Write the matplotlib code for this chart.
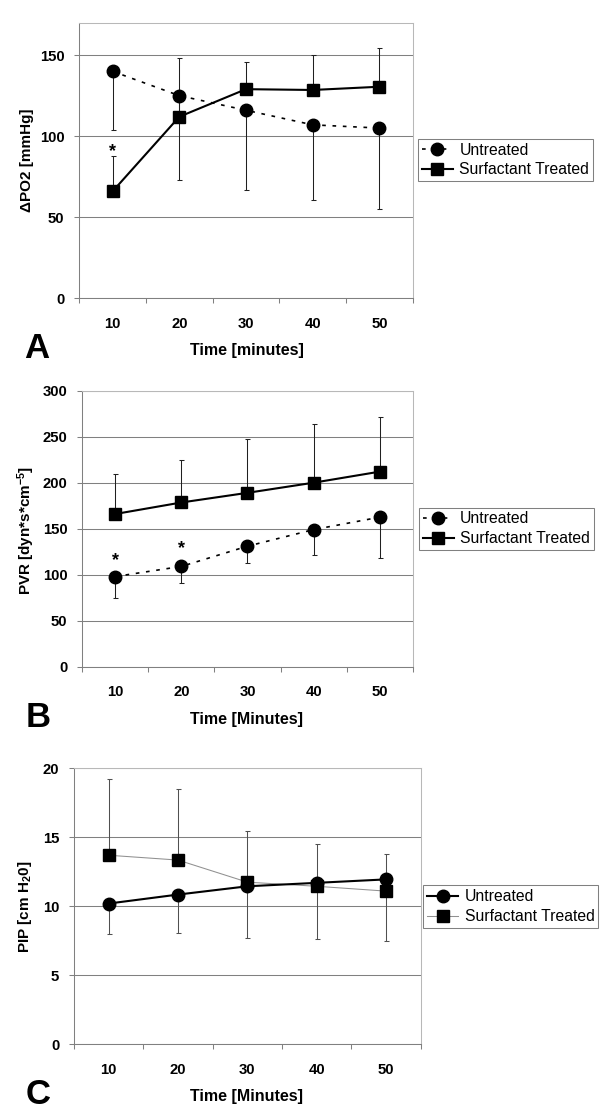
import matplotlib
matplotlib.use('Agg')
import matplotlib.pyplot as plt

plt.rcParams['font.family'] = ['Liberation Sans', 'DejaVu Sans']
plt.rcParams['font.weight'] = 'bold'
plt.rcParams['mathtext.fontset'] = 'custom'
plt.rcParams['mathtext.rm'] = 'Liberation Sans'
plt.rcParams['mathtext.bf'] = 'Liberation Sans:bold'
plt.rcParams['mathtext.it'] = 'Liberation Sans:italic'

# ---------------- data ----------------
time = [10, 20, 30, 40, 50]
time_labels = ['10', '20', '30', '40', '50']
series_labels = ['Untreated', 'Surfactant Treated']

po2_untreated = [140, 125, 116, 107, 105]
po2_untreated_err = [36, 52, 49, 46.5, 50]        # lower bars
po2_treated = [66, 112, 129, 128.5, 130.5]
po2_treated_err = [22, 36, 16.5, 21.5, 24]        # upper bars
po2_yticks = [0, 50, 100, 150]
po2_star_x = [10]
po2_star_y = [94]

pvr_untreated = [98, 109, 131, 149, 162.5]
pvr_untreated_err = [23.5, 17.5, 18, 28, 44]      # lower bars
pvr_treated = [166, 178.5, 189, 200, 212]
pvr_treated_err = [43, 46.5, 58.5, 64, 59]        # upper bars
pvr_yticks = [0, 50, 100, 150, 200, 250, 300]
pvr_star_x = [10, 20]
pvr_star_y = [121.5, 135]

pip_untreated = [10.2, 10.85, 11.45, 11.7, 11.95]
pip_untreated_err = [2.2, 2.75, 3.75, 4.05, 4.45]  # lower bars
pip_treated = [13.7, 13.35, 11.75, 11.45, 11.1]
pip_treated_err = [5.5, 5.15, 3.7, 3.05, 2.7]      # upper bars
pip_yticks = [0, 5, 10, 15, 20]

W, H = 600, 1119
fig = plt.figure(figsize=(W / 100, H / 100), dpi=100)
fig.patch.set_facecolor('white')


def make_ax(left, top, right, bottom):
    return fig.add_axes([left / W, 1 - bottom / H, (right - left) / W, (bottom - top) / H])


def style_ax(ax, ylim, yticks):
    for sp in ['top', 'right']:
        ax.spines[sp].set_color('#b8b8b8')
        ax.spines[sp].set_linewidth(0.75)
    for sp in ['left', 'bottom']:
        ax.spines[sp].set_color('#808080')
        ax.spines[sp].set_linewidth(0.75)
    ax.set_xlim(5, 55)
    ax.set_xticks([5, 15, 25, 35, 45, 55])
    ax.set_xticklabels([])
    ax.set_xticks(time, minor=True)
    ax.set_xticklabels(time_labels, minor=True)
    ax.tick_params(axis='x', which='major', length=3.6, width=0.75, color='#808080', direction='out')
    ax.tick_params(axis='x', which='minor', length=0, pad=13.5, labelsize=10.7)
    ax.set_ylim(*ylim)
    ax.set_yticks(yticks)
    ax.tick_params(axis='y', length=3.6, width=0.75, color='#808080', pad=7, labelsize=10.7)
    ax.yaxis.grid(True, color='#808080', lw=0.75)
    ax.set_axisbelow(True)


def add_legend(handles, cx, cy):
    leg = fig.legend(handles, series_labels, loc='center', bbox_to_anchor=(cx / W, 1 - cy / H),
                     frameon=True, fancybox=False, edgecolor='#808080', framealpha=1,
                     prop={'weight': 'normal', 'size': 11.3}, handlelength=2.0,
                     handletextpad=0.4, labelspacing=0.3, borderpad=0.25, borderaxespad=0)
    leg.get_frame().set_linewidth(0.75)


dotted = (0, (2.2, 4.0))

# ---------------- Panel A ----------------
axA = make_ax(79.3, 22.7, 412.7, 298.3)
style_ax(axA, (0, 170), po2_yticks)
axA.errorbar(time, po2_untreated, yerr=[po2_untreated_err, [0] * 5], fmt='none',
             ecolor='#202020', elinewidth=0.75, capsize=1.8, capthick=0.75, zorder=2)
axA.errorbar(time, po2_treated, yerr=[[0] * 5, po2_treated_err], fmt='none',
             ecolor='#202020', elinewidth=0.75, capsize=1.8, capthick=0.75, zorder=2)
hA1, = axA.plot(time, po2_untreated, color='black', ls=dotted, lw=1.2, marker='o', ms=9, zorder=3)
hA2, = axA.plot(time, po2_treated, color='black', ls='-', lw=1.5, marker='s', ms=9, zorder=3)
for sx, sy in zip(po2_star_x, po2_star_y):
    axA.annotate('*', xy=(sx, sy), xytext=(0, -7.5), textcoords='offset points',
                 ha='center', va='baseline', fontsize=13, fontweight='bold')
add_legend([hA1, hA2], 505.5, 160)
fig.text(26.7 / W, 1 - 160 / H, 'ΔPO2 [mmHg]', rotation=90, ha='center', va='center', fontsize=11)
fig.text(246.5 / W, 1 - 350.7 / H, 'Time [minutes]', ha='center', va='center', fontsize=11.5)
fig.text(24.5 / W, 1 - 358.3 / H, 'A', ha='left', va='baseline', fontsize=25, fontweight='bold')

# ---------------- Panel B ----------------
axB = make_ax(82.3, 390.7, 412.7, 666.7)
style_ax(axB, (0, 300), pvr_yticks)
axB.errorbar(time, pvr_untreated, yerr=[pvr_untreated_err, [0] * 5], fmt='none',
             ecolor='#202020', elinewidth=0.75, capsize=1.8, capthick=0.75, zorder=2)
axB.errorbar(time, pvr_treated, yerr=[[0] * 5, pvr_treated_err], fmt='none',
             ecolor='#202020', elinewidth=0.75, capsize=1.8, capthick=0.75, zorder=2)
hB1, = axB.plot(time, pvr_untreated, color='black', ls=dotted, lw=1.2, marker='o', ms=9, zorder=3)
hB2, = axB.plot(time, pvr_treated, color='black', ls='-', lw=1.5, marker='s', ms=9, zorder=3)
for sx, sy in zip(pvr_star_x, pvr_star_y):
    axB.annotate('*', xy=(sx, sy), xytext=(0, -7.5), textcoords='offset points',
                 ha='center', va='baseline', fontsize=13, fontweight='bold')
add_legend([hB1, hB2], 506.3, 528.8)
fig.text(26.7 / W, 1 - 530 / H, r'PVR [dyn*s*cm$^{\mathbf{-5}}$]', rotation=90, ha='center',
         va='center', fontsize=11)
fig.text(247 / W, 1 - 719.3 / H, 'Time [Minutes]', ha='center', va='center', fontsize=11.5)
fig.text(26 / W, 1 - 727.3 / H, 'B', ha='left', va='baseline', fontsize=25, fontweight='bold')

# ---------------- Panel C ----------------
axC = make_ax(74, 768.3, 420.7, 1044.3)
style_ax(axC, (0, 20), pip_yticks)
axC.errorbar(time, pip_untreated, yerr=[pip_untreated_err, [0] * 5], fmt='none',
             ecolor='#505050', elinewidth=0.75, capsize=1.8, capthick=0.75, zorder=2)
axC.errorbar(time, pip_treated, yerr=[[0] * 5, pip_treated_err], fmt='none',
             ecolor='#505050', elinewidth=0.75, capsize=1.8, capthick=0.75, zorder=2)
hC2, = axC.plot(time, pip_treated, color='#909090', ls='-', lw=0.75, marker='s', ms=8.6,
                mfc='black', mec='black', zorder=3)
hC1, = axC.plot(time, pip_untreated, color='black', ls='-', lw=1.5, marker='o', ms=9, zorder=3)
add_legend([hC1, hC2], 510.8, 906.7)
fig.text(25 / W, 1 - 906.7 / H, r'PIP [cm H$_{\mathbf{2}}$0]', rotation=90, ha='center',
         va='center', fontsize=11)
fig.text(247 / W, 1 - 1096.7 / H, 'Time [Minutes]', ha='center', va='center', fontsize=11.5)
fig.text(26 / W, 1 - 1104.5 / H, 'C', ha='left', va='baseline', fontsize=25, fontweight='bold')

fig.savefig('out.png', dpi=100, facecolor='white')
